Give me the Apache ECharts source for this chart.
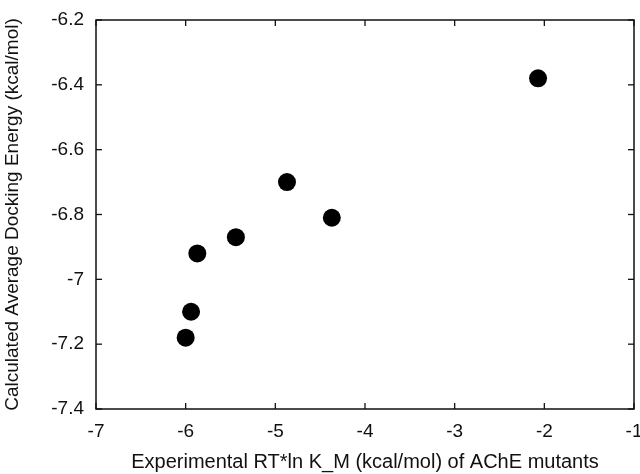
<!DOCTYPE html>
<html>
<head>
<meta charset="utf-8">
<script src="https://cdn.jsdelivr.net/npm/echarts@6/dist/echarts.min.js"></script>
<style>
  html, body { margin: 0; padding: 0; background: #fff; }
  #chart { width: 640px; height: 474px; }
</style>
</head>
<body>
<div id="chart"></div>
<script>
// experimental RT*ln K_M vs calculated docking energy, one point per mutant
const expRT = [-2.07, -4.37, -4.87, -5.44, -5.87, -5.94, -6.0];
const dockE = [-6.38, -6.81, -6.70, -6.87, -6.92, -7.10, -7.18];

const xTicks = [-7, -6, -5, -4, -3, -2, -1];
const yTicks = [-7.4, -7.2, -7.0, -6.8, -6.6, -6.4, -6.2];

const font = "Liberation Sans";
const ink = "#111";
const tickLen = 6;

const chart = echarts.init(document.getElementById("chart"));

// built-in ticks kept vanishing in v6, so the inward ticks on all four
// sides are drawn by a custom series placed through the axes
function tickSeries(data, vertical) {
  return {
    type: "custom", silent: true, z: 5, clip: false,
    data: data,
    renderItem(params, api) {
      const cs = params.coordSys;
      const p = api.coord([api.value(0), api.value(1)]);
      const st = { stroke: ink, lineWidth: 1.3 };
      if (vertical) {
        const x = p[0], yb = cs.y + cs.height, yt = cs.y;
        return { type: "group", children: [
          { type: "line", shape: { x1: x, y1: yb, x2: x, y2: yb - tickLen }, style: st },
          { type: "line", shape: { x1: x, y1: yt, x2: x, y2: yt + tickLen }, style: st },
        ] };
      }
      const y = p[1], xl = cs.x, xr = cs.x + cs.width;
      return { type: "group", children: [
        { type: "line", shape: { x1: xl, y1: y, x2: xl + tickLen, y2: y }, style: st },
        { type: "line", shape: { x1: xr, y1: y, x2: xr - tickLen, y2: y }, style: st },
      ] };
    },
  };
}

chart.setOption({
  animation: false,
  grid: { left: 96, right: 6, top: 20, bottom: 65, show: true, borderColor: ink, borderWidth: 1.5,
    outerBoundsMode: "none", containLabel: false },
  xAxis: {
    type: "value", min: -7, max: -1, interval: 1,
    axisLine: { show: false, onZero: false }, axisTick: { show: false }, splitLine: { show: false },
    name: "Experimental RT*ln K_M (kcal/mol) of AChE mutants",
    nameLocation: "middle", nameGap: 43,
    nameTextStyle: { fontFamily: font, fontSize: 20, color: ink },
    axisLabel: { fontFamily: font, fontSize: 19, color: ink, margin: 13 },
  },
  yAxis: {
    type: "value", min: -7.4, max: -6.2, interval: 0.2,
    axisLine: { show: false, onZero: false }, axisTick: { show: false }, splitLine: { show: false },
    name: "Calculated Average Docking Energy (kcal/mol)",
    nameLocation: "middle", nameGap: 74,
    nameTextStyle: { fontFamily: font, fontSize: 19, color: ink },
    axisLabel: { fontFamily: font, fontSize: 19, color: ink, margin: 12,
      formatter: (v) => String(Math.round(v * 10) / 10) },
  },
  series: [
    tickSeries(xTicks.map((v) => [v, yTicks[0]]), true),
    tickSeries(yTicks.map((v) => [xTicks[0], v]), false),
    {
      type: "scatter",
      data: expRT.map((x, i) => [x, dockE[i]]),
      symbol: "circle", symbolSize: 18,
      itemStyle: { color: "#000", opacity: 1 },
    },
  ],
});
</script>
</body>
</html>
